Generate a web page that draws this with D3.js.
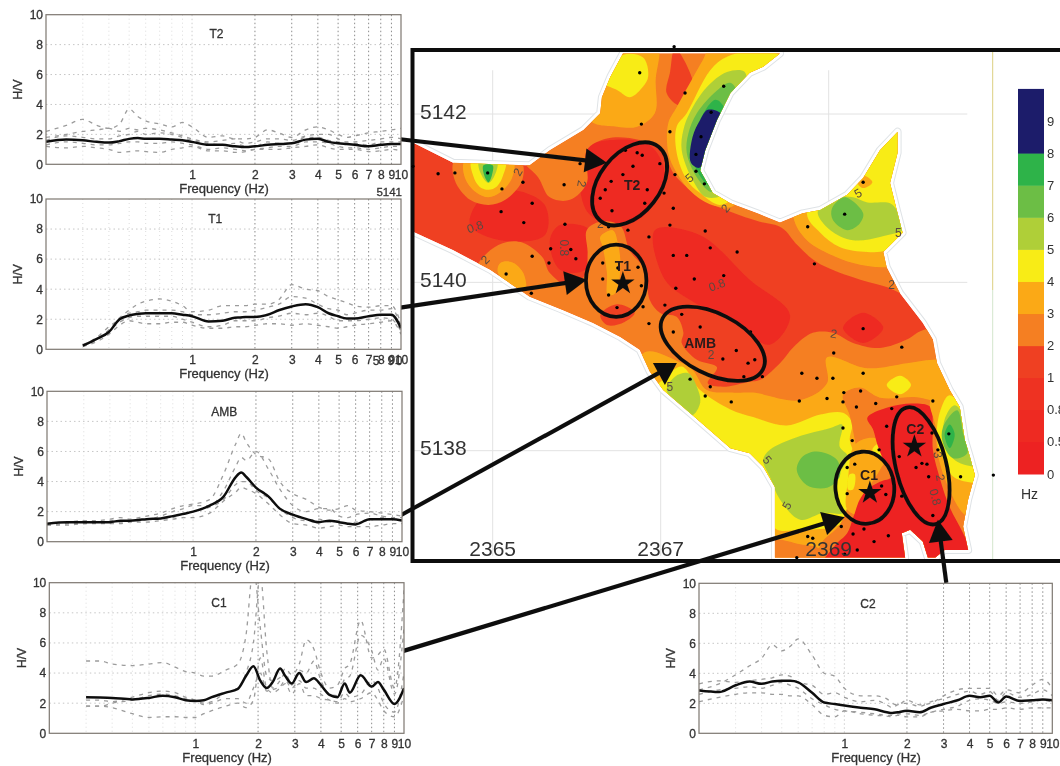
<!DOCTYPE html>
<html><head><meta charset="utf-8">
<script src="https://cdnjs.cloudflare.com/ajax/libs/d3/7.8.5/d3.min.js"></script>
<style>html,body{margin:0;padding:0;background:#fff;overflow:hidden}svg{display:block}text{font-family:"Liberation Sans",Arial,sans-serif}</style>
</head><body><svg id="c" width="1060" height="766"></svg>
<script>
// ---------- H/V spectra ----------
const freqs=[.2,.25,.3,.35,.4,.45,.5,.55,.6,.7,.8,.9,1,1.2,1.4,1.6,1.7,1.8,2,2.3,2.6,3,3.5,4,4.5,5,5.5,6,7,8,9,10];
const freqsC1=[.3,.35,.4,.5,.6,.7,.8,.9,1,1.1,1.2,1.4,1.6,1.75,1.9,2.05,2.2,2.35,2.55,2.7,2.9,3.15,3.4,3.7,4,4.4,4.8,5.2,5.5,6.2,7,7.5,8,9,10];
const n=null;
const t2Mean=[1.5,1.65,1.6,1.5,1.45,1.55,1.7,1.75,1.7,1.7,1.65,1.6,1.5,1.3,1.3,1.2,1.17,1.15,1.2,1.3,1.35,1.4,1.65,1.7,1.5,1.4,1.35,1.3,1.2,1.3,1.35,1.35];
const t2Runs=[
[2.2,2.6,3.0,2.6,2.4,2.7,3.7,3.2,2.9,2.7,2.5,2.8,2.5,1.8,1.9,1.7,1.7,1.7,1.8,2.3,2.1,1.8,2.3,2.5,2.3,2.0,1.8,1.9,2.1,2.2,2.3,2.4],
[1.8,2.0,2.2,2.3,2.4,2.2,2.4,2.3,2.4,2.3,2.1,1.9,1.7,1.5,1.6,1.7,1.5,1.4,1.5,1.7,1.7,1.6,1.9,2.0,2.0,1.7,1.5,1.5,1.6,1.7,1.8,1.7],
[1.3,1.5,1.4,1.3,1.3,1.4,1.5,1.5,1.4,1.4,1.5,1.4,1.3,1.0,1.1,1.0,.95,.9,1.0,1.1,1.2,1.2,1.5,1.5,1.4,1.2,1.1,1.1,1.0,1.1,1.2,1.2],
[1.2,1.1,1.2,1.1,1.0,.8,.85,.9,.85,.8,1.0,1.1,1.2,.9,.9,.8,.8,.85,1.0,1.0,1.0,1.1,1.2,1.3,1.1,1.0,1.0,1.0,.85,.9,1.0,.9],
[1.6,1.9,1.8,1.7,1.7,1.9,2.0,2.2,2.0,2.1,2.0,1.8,1.6,1.4,1.3,1.4,1.3,1.2,1.2,1.5,1.4,1.4,1.8,1.8,1.6,1.5,1.4,1.4,1.3,1.5,1.5,1.5]];
const t1Mean=[n,n,.25,.7,1.15,2.0,2.25,2.35,2.4,2.4,2.4,2.3,2.2,1.85,1.9,2.1,2.12,2.15,2.15,2.3,2.6,2.85,3.0,2.8,2.4,2.2,2.05,2.05,2.2,2.3,2.3,1.4];
const t1Runs=[
[n,n,.3,.7,1.3,2.1,2.6,3.0,3.2,3.35,3.2,2.9,2.5,2.6,2.9,2.9,2.9,2.9,3.0,3.0,3.3,4.3,4.0,3.9,3.5,3.3,3.1,2.9,2.8,2.9,2.9,1.7],
[n,n,.3,.8,1.5,2.0,2.4,2.5,2.6,2.6,2.6,2.5,2.3,2.3,2.4,2.5,2.5,2.5,2.6,2.8,3.0,3.5,3.4,3.0,2.7,2.6,2.3,2.4,2.6,2.6,2.7,1.5],
[n,n,.2,.6,1.2,1.8,2.1,2.2,2.2,2.2,2.2,2.0,1.8,1.5,1.6,1.9,1.9,1.9,1.9,2.1,2.2,2.4,2.3,2.4,2.2,1.9,1.9,1.9,2.0,2.1,2.0,1.2],
[n,n,.2,.5,1.0,1.6,1.9,1.8,1.7,1.7,1.8,1.8,1.6,1.4,1.4,1.5,1.5,1.5,1.6,1.7,1.7,1.6,1.7,1.6,1.5,1.4,1.5,1.6,1.7,1.8,1.9,1.0]];
const ambMean=[1.2,1.3,1.3,1.3,1.3,1.4,1.4,1.45,1.5,1.55,1.7,1.85,2.0,2.4,3.0,4.3,4.6,4.3,3.6,3.0,2.2,1.8,1.5,1.3,1.4,1.3,1.2,1.15,1.5,1.5,1.5,1.4];
const ambRuns=[
[1.2,1.3,1.4,1.4,1.5,1.6,1.5,1.6,1.7,1.9,2.2,2.4,2.5,2.8,4.5,6.5,7.2,6.6,5.8,5.5,4.0,3.2,2.8,2.3,2.1,2.2,2.4,2.1,2.0,1.9,1.8,1.7],
[1.1,1.2,1.4,1.3,1.4,1.4,1.4,1.5,1.5,1.7,2.0,2.2,2.4,2.4,3.4,5.0,5.6,5.4,6.0,4.8,3.5,2.4,2.0,2.2,2.2,1.7,1.6,1.8,1.9,1.7,1.6,1.6],
[1.1,1.2,1.2,1.3,1.3,1.3,1.4,1.4,1.5,1.5,1.6,1.9,2.0,2.3,2.8,3.8,4.0,4.0,3.4,2.9,2.2,1.6,1.4,1.5,1.3,1.3,1.2,1.3,1.4,1.6,1.5,1.4],
[1.1,1.1,1.2,1.2,1.2,1.2,1.3,1.3,1.3,1.4,1.5,1.6,1.6,1.9,2.7,3.3,3.6,3.5,3.2,2.5,1.8,1.2,1.1,.9,1.0,1.1,1.0,1.0,1.0,1.1,1.2,1.2]];
const c1Mean=[2.4,2.38,2.35,2.25,2.35,2.5,2.4,2.2,2.15,2.2,2.4,2.7,2.95,3.8,4.45,3.5,3.0,3.4,4.3,3.8,3.3,4.0,3.4,3.65,3.2,2.55,2.4,3.3,2.7,3.85,3.1,3.4,2.9,1.95,3.0];
const c1Runs=[
[4.8,4.8,4.6,4.5,4.6,4.7,4.4,4.1,4.0,3.8,3.8,4.2,4.6,6.5,11,7,3.8,3.5,3.7,4.3,3.9,4.6,6.2,5.6,4.0,3.0,3.2,4.3,4.6,7.5,5,5.2,5.6,3.0,9.5],
[2.2,2.2,2.1,2.4,2.7,2.8,2.7,2.4,2.2,2.0,2.1,2.7,3.0,4.0,6.0,10.5,5.5,3.0,3.5,4.0,3.2,4.2,4.0,4.8,3.5,2.6,2.5,3.6,3.8,6.5,5.5,4.2,5.0,2.6,7.0],
[1.8,1.8,1.7,1.3,1.05,1.1,1.1,1.05,1.05,1.3,1.5,1.8,2.0,1.7,2.2,5.0,3.0,2.7,3.0,3.3,2.6,3.3,2.5,2.5,2.3,2.2,2.1,2.7,2.4,2.6,3.5,3.0,2.0,1.4,4.0],
[1.8,1.8,2.0,2.2,2.5,2.6,2.5,2.3,2.2,1.9,2.0,2.3,2.3,2.0,3.0,4.0,2.8,2.9,3.1,3.5,3.0,3.5,3.0,3.0,2.6,2.2,2.0,2.3,2.1,2.3,2.7,2.2,1.5,1.1,2.5]];
const c2Mean=[2.85,2.75,3.2,3.45,3.3,3.45,3.5,3.5,3.4,2.7,2.05,1.95,1.85,1.7,1.6,1.4,1.35,1.4,1.5,1.4,1.7,1.95,2.2,2.5,2.4,2.5,2.05,2.45,2.15,2.2,2.25,2.2];
const c2Runs=[
[2.9,3.3,3.9,4.5,5.0,5.9,5.5,5.8,6.3,5.2,4.0,3.8,3.0,2.5,2.5,2.3,2.0,1.9,2.2,1.9,2.0,2.5,2.9,3.0,3.0,3.0,2.5,2.9,2.7,3.2,3.6,3.0],
[3.3,3.5,3.4,3.5,3.6,3.7,3.9,3.8,3.4,3.2,2.6,2.7,2.4,2.1,2.2,1.9,1.7,1.9,2.0,1.8,2.1,2.3,2.6,2.8,2.6,2.8,2.2,2.7,2.4,2.6,2.9,2.5],
[2.6,2.9,3.0,3.1,3.0,3.2,3.4,3.2,3.0,2.3,1.9,1.6,1.5,1.4,1.3,1.2,1.2,1.3,1.3,1.2,1.4,1.6,1.8,2.2,2.3,2.2,2.0,2.1,2.0,2.1,2.2,2.1],
[2.1,2.4,2.6,2.7,2.7,2.6,2.6,2.5,2.5,1.9,1.2,1.1,1.5,1.3,1.2,1.15,1.1,1.2,1.1,1.1,1.4,1.5,1.6,1.5,1.5,1.6,1.6,1.7,1.6,1.7,1.7,1.7]];
const xLabelTicks=[1,2,3,4,5,6,7,8,9,10];
const xFaintTicks=[.3,.4,.5,.6,.7,.8,.9];
const yTicks=[0,2,4,6,8,10];

// ---------- map: legend bands ----------
const legendLabels=["0","0.5","0.8","1","2","3","4","5","6","7","8","9"];
const bandColors=["#ED2024","#EE2A24","#EE3024","#EF4023","#F57F20","#FBA919","#F8EC12","#AFCF38","#6CBE45","#2FB34A","#1B1C6B","#1B1C6B"];
const [RED0,RED1,RED2,RED3,ORANGE,AMBER,YELLOW,YGREEN,GREEN,DGREEN,NAVY]=bandColors;

// ---------- map: geography, km east of 2360 and north of 5130 ----------
const outline=[[3.9,11.66],[4.05,11.66],[4.53,11.42],[5.44,11.39],[5.68,11.57],[6.08,11.81],[6.28,12.01],[6.30,12.20],[6.40,12.44],[6.55,12.72],[8.42,12.72],[8.22,12.56],[8.06,12.49],[7.83,12.25],[7.67,11.93],[7.53,11.57],[7.47,11.33],[7.62,11.06],[7.83,10.94],[8.15,10.82],[8.42,10.71],[8.69,10.82],[8.90,10.86],[9.22,11.04],[9.41,11.24],[9.61,11.57],[9.82,11.79],[9.82,11.54],[9.73,11.18],[9.81,10.86],[9.88,10.59],[9.65,10.36],[9.69,10.18],[9.85,9.87],[10.12,9.52],[10.24,9.32],[10.29,9.04],[10.44,8.72],[10.56,8.52],[10.62,8.13],[10.68,7.93],[10.74,7.71],[10.66,7.42],[10.60,7.10],[10.66,6.82],[10.38,6.82],[10.27,6.73],[10.18,6.73],[10.12,6.92],[9.97,7.06],[9.87,7.02],[9.91,6.73],[8.36,6.73],[8.36,7.57],[8.22,7.81],[8.06,7.97],[7.83,8.03],[7.38,8.42],[7.03,8.72],[6.87,8.94],[6.75,9.20],[6.52,9.35],[6.19,9.52],[5.84,9.67],[5.44,9.83],[4.97,10.15],[4.53,10.38],[4.05,10.60],[3.9,10.60]];
const redWest=[[4.85,10.98],[5.21,11.10],[5.62,10.92],[5.62,10.56],[5.09,10.50],[4.73,10.68]];
const redT2=[[6.06,11.57],[6.40,11.69],[6.87,11.63],[7.05,11.28],[6.87,10.86],[6.57,10.68],[6.16,10.80],[6.04,11.10]];
const redCentre=[[6.93,10.62],[7.47,10.56],[8.06,10.03],[8.54,9.61],[8.30,9.26],[7.83,9.55],[7.35,9.79],[7.05,10.03]];
const redMid=[[5.80,10.68],[6.16,10.62],[6.10,10.15],[5.80,10.15],[5.68,10.50]];
const redSpot=[[9.17,9.46],[9.41,9.64],[9.65,9.46],[9.41,9.28]];
const orangeNorth=[[5.33,11.48],[5.54,11.25],[5.68,11.01],[5.92,10.98],[6.12,11.18],[6.12,11.57],[6.36,11.71],[6.75,11.69],[7.03,11.54],[7.15,11.30],[7.31,11.13],[7.50,10.98],[7.83,10.84],[8.18,10.72],[8.44,10.65],[8.63,10.44],[8.86,10.24],[9.29,10.06],[9.67,9.95],[10.03,9.85],[10.21,10.98],[9.37,12.82],[5.80,12.82],[5.21,12.05]];
const amberTop=[[6.16,11.93],[6.34,12.52],[6.55,12.82],[6.96,12.82],[6.94,12.40],[6.93,12.01],[6.72,11.85],[6.48,11.85]];
const yellowTop=[[6.28,12.40],[6.55,12.70],[6.79,12.67],[6.85,12.44],[6.75,12.28],[6.63,12.20],[6.49,12.28]];
const redDrop=[[7.17,12.78],[7.38,12.40],[7.37,12.20],[7.23,12.10],[7.07,12.25],[7.11,12.49]];
const armAmber=[[7.61,12.82],[7.50,12.64],[7.19,12.08],[7.09,11.89],[7.09,11.54],[7.19,11.30],[7.38,11.06],[7.61,10.92],[7.88,10.92],[7.94,11.57],[8.54,12.52],[8.54,12.82]];
const armYellow=[[7.79,12.68],[7.59,12.52],[7.31,12.01],[7.19,11.85],[7.19,11.54],[7.31,11.22],[7.47,11.06],[7.71,10.92],[7.94,11.10],[8.00,11.81],[8.54,12.58],[8.24,12.76]];
const armYGreen=[[7.79,12.50],[7.55,12.32],[7.35,12.02],[7.27,11.81],[7.25,11.57],[7.38,11.22],[7.55,11.01],[7.83,11.10],[8.00,12.17],[8.00,12.50]];
const armGreen=[[7.83,12.37],[7.67,12.28],[7.43,12.01],[7.33,11.77],[7.31,11.54],[7.43,11.25],[7.62,11.07],[7.83,11.27],[7.94,12.17]];
const armDGreen=[[7.65,12.17],[7.43,11.85],[7.37,11.57],[7.43,11.33],[7.61,11.13],[7.77,11.45],[7.77,12.05]];
const armNavy=[[7.56,12.05],[7.72,12.00],[7.66,11.77],[7.55,11.54],[7.46,11.36],[7.36,11.42],[7.38,11.73],[7.47,11.93]];
const neAmber=[[8.58,10.77],[8.74,10.50],[8.98,10.35],[9.29,10.23],[9.69,10.18],[10.03,10.27],[10.09,11.57],[8.66,11.57]];
const neYellow=[[8.74,10.82],[8.90,10.59],[9.13,10.42],[9.46,10.36],[9.69,10.38],[9.97,10.56],[10.03,11.81],[9.25,11.81]];
const neYGreen=[[8.87,10.84],[9.02,10.62],[9.29,10.50],[9.61,10.54],[9.91,10.65],[9.81,10.86],[9.73,10.94],[9.46,10.95],[9.29,11.01],[9.13,11.01]];
const neGreen=[[9.19,11.01],[9.41,10.82],[9.37,10.70],[9.22,10.62],[9.05,10.74],[9.04,10.88]];
const neAmberSpot=[[9.34,11.19],[9.41,11.27],[9.52,11.19],[9.41,11.12]];
const westOrange=[[4.55,11.45],[5.33,11.45],[5.35,11.21],[5.15,10.98],[4.95,10.92],[4.73,10.98],[4.55,11.21]];
const westAmber=[[4.67,11.45],[5.24,11.45],[5.23,11.24],[5.09,11.07],[4.95,11.01],[4.80,11.07],[4.67,11.24]];
const westYellow=[[4.75,11.45],[5.15,11.45],[5.12,11.26],[5.05,11.14],[4.95,11.10],[4.84,11.14],[4.77,11.26]];
const westYGreen=[[4.84,11.45],[5.05,11.45],[5.04,11.31],[4.95,11.18],[4.85,11.31]];
const westGreen=[[4.89,11.39],[5.00,11.39],[4.99,11.27],[4.95,11.19],[4.90,11.27]];
const southOrange=[[4.79,10.15],[4.97,10.38],[5.17,10.48],[5.36,10.47],[5.59,10.30],[5.68,10.11],[5.92,9.95],[6.10,10.09],[6.13,10.35],[6.12,10.62],[6.28,10.72],[6.52,10.67],[6.63,10.38],[6.81,10.15],[6.87,9.79],[6.99,9.64],[7.19,9.59],[7.27,9.40],[7.25,9.28],[7.43,9.08],[7.67,8.99],[7.56,8.80],[7.74,8.76],[8.06,8.82],[8.18,8.84],[8.42,9.04],[8.58,9.23],[8.81,9.40],[9.05,9.40],[9.29,9.28],[9.61,9.22],[9.93,9.32],[10.12,9.43],[10.74,9.49],[11.04,7.65],[10.80,6.23],[7.47,6.23],[6.28,8.60],[4.79,9.79]];
const t1Amber=[[6.28,10.54],[6.43,10.62],[6.49,10.47],[6.52,10.18],[6.46,9.87],[6.37,9.85],[6.36,10.11],[6.31,10.42]];
const t1RedSpot=[[6.28,9.61],[6.48,9.74],[6.69,9.64],[6.57,9.53],[6.37,9.49]];
const swAmber=[[5.09,10.23],[5.23,10.24],[5.36,10.12],[5.39,9.93],[5.21,9.97],[5.06,10.12]];
const southAmber=[[6.81,9.17],[7.23,9.05],[7.38,8.96],[7.55,8.72],[7.83,8.69],[8.10,8.69],[8.66,8.60],[8.98,8.80],[8.98,9.11],[9.46,8.98],[9.93,9.04],[10.24,9.08],[10.74,9.08],[11.04,7.65],[10.80,6.23],[7.47,6.23],[6.63,8.60]];
const southYellow=[[7.05,8.86],[7.25,9.00],[7.47,8.72],[7.83,8.49],[8.10,8.40],[8.50,8.30],[8.90,8.43],[9.17,8.45],[9.28,8.33],[9.25,8.13],[9.31,7.95],[9.37,7.65],[9.29,7.30],[9.13,7.12],[8.66,7.06],[8.36,7.08],[8.18,7.65],[7.77,7.77],[7.23,8.25],[6.87,8.66]];
const ambYGreen=[[7.17,8.88],[7.33,8.92],[7.43,8.76],[7.47,8.57],[7.37,8.42],[7.19,8.57],[7.07,8.72]];
const southYGreen=[[8.22,7.89],[8.30,8.01],[8.62,8.16],[9.02,8.27],[9.16,8.31],[9.13,8.05],[9.23,7.93],[9.11,7.69],[9.10,7.42],[9.17,7.26],[8.93,7.26],[8.66,7.18],[8.42,7.42],[8.30,7.69]];
const southGreen=[[8.86,7.99],[9.10,7.89],[9.13,7.69],[8.98,7.56],[8.74,7.59],[8.62,7.77],[8.69,7.93]];
const clusterOrange=[[9.17,8.66],[9.37,8.75],[9.61,8.63],[10.09,8.63],[10.30,8.54],[10.33,8.25],[10.38,7.77],[10.62,7.30],[10.86,6.70],[9.85,6.58],[8.90,6.58],[8.90,6.88],[9.13,7.12],[9.29,7.54],[9.37,7.83],[9.31,8.13],[9.25,8.42]];
const swOrange=[[8.30,6.93],[8.66,6.89],[8.90,6.83],[9.02,6.58],[8.30,6.58]];
const c1Amber=[[9.31,8.07],[9.55,8.15],[9.73,8.01],[9.61,7.77],[9.47,7.54],[9.37,7.24],[9.22,7.30],[9.23,7.65]];
const c1YellowA=[[9.52,8.01],[9.61,8.09],[9.71,8.01],[9.61,7.91]];
const c1YellowB=[[9.25,7.72],[9.31,7.72],[9.29,7.54],[9.23,7.54]];
const clusterRed=[[9.46,8.39],[9.69,8.51],[10.00,8.56],[10.21,8.52],[10.24,8.33],[10.24,8.01],[10.33,7.65],[10.44,7.33],[10.60,7.02],[10.71,6.76],[10.21,6.58],[8.90,6.58],[9.08,6.88],[9.22,7.02],[9.29,7.20],[9.37,7.42],[9.46,7.54],[9.61,7.63],[9.75,7.69],[9.65,7.89],[9.58,8.07],[9.53,8.25]];
const eastAmber=[[10.21,8.60],[10.44,8.78],[10.74,8.24],[10.86,7.16],[10.62,7.24],[10.44,7.53],[10.30,7.95],[10.27,8.30]];
const eastYellow=[[10.33,8.48],[10.44,8.66],[10.74,8.24],[10.86,7.65],[10.50,7.68],[10.38,7.87],[10.29,8.13]];
const eastYGreen=[[10.38,8.37],[10.50,8.54],[10.71,8.24],[10.86,7.83],[10.53,7.87],[10.38,8.07]];
const eastGreen=[[10.36,8.28],[10.53,8.48],[10.60,8.21],[10.65,7.97],[10.48,7.91],[10.36,8.09]];
const eastDGreen=[[10.38,8.19],[10.44,8.31],[10.50,8.19],[10.44,8.03]];
const midYellow=[[9.69,8.78],[9.85,8.89],[9.98,8.78],[9.85,8.67]];
const mapLayers=[[RED1,redWest],[RED1,redT2],[RED1,redCentre],[RED1,redMid],[RED1,redSpot],
[ORANGE,orangeNorth],[AMBER,amberTop],[YELLOW,yellowTop],[RED3,redDrop],[AMBER,armAmber],[YELLOW,armYellow],[YGREEN,armYGreen],[GREEN,armGreen],[DGREEN,armDGreen],[NAVY,armNavy],
[AMBER,neAmber],[YELLOW,neYellow],[YGREEN,neYGreen],[GREEN,neGreen],[AMBER,neAmberSpot],
[ORANGE,westOrange],[AMBER,westAmber],[YELLOW,westYellow],[YGREEN,westYGreen],[DGREEN,westGreen],
[ORANGE,southOrange],[AMBER,t1Amber],[RED3,t1RedSpot],[AMBER,swAmber],[AMBER,southAmber],[YELLOW,southYellow],[YGREEN,ambYGreen],[YGREEN,southYGreen],[GREEN,southGreen],
[ORANGE,clusterOrange],[ORANGE,swOrange],[AMBER,c1Amber],[YELLOW,c1YellowA],[YELLOW,c1YellowB],[RED0,clusterRed],[AMBER,eastAmber],[YELLOW,eastYellow],[YGREEN,eastYGreen],[GREEN,eastGreen],[DGREEN,eastDGreen],[YELLOW,midYellow]];
const stations=[[6.75,12.49],[7.29,12.25],[6.77,11.88],[7.11,11.79],[7.75,12.33],[7.60,12.02],[7.48,11.73],[7.42,11.52],[7.42,11.32],[7.52,11.17],[7.17,11.28],[6.99,11.41],[6.78,11.51],[6.72,11.54],[6.58,11.57],[6.67,11.38],[6.55,11.28],[6.41,11.20],[6.04,11.41],[6.34,11.10],[6.28,11.00],[6.84,11.10],[6.81,10.94],[7.04,11.06],[7.15,10.88],[6.42,10.85],[5.85,11.16],[5.36,11.19],[5.11,11.11],[4.94,11.30],[4.55,11.30],[4.35,11.29],[4.05,11.38],[5.47,10.94],[5.10,10.84],[5.37,10.71],[5.86,10.69],[6.38,10.66],[6.61,10.62],[6.86,10.54],[7.11,10.68],[7.53,10.61],[7.59,10.41],[7.91,10.36],[7.15,10.32],[7.31,10.32],[5.69,10.40],[5.67,10.23],[5.93,10.39],[5.99,10.28],[5.47,10.31],[5.16,10.10],[5.46,9.87],[6.31,10.23],[6.49,10.17],[6.73,10.18],[6.31,10.04],[6.77,9.96],[6.38,9.85],[6.48,9.70],[7.40,10.04],[7.18,9.93],[7.05,9.73],[7.75,10.08],[6.79,9.71],[7.25,9.62],[6.86,9.51],[7.15,9.41],[7.47,9.47],[7.90,9.19],[7.74,9.09],[8.04,9.04],[8.12,9.08],[7.35,8.85],[7.59,8.76],[7.53,8.65],[7.84,8.58],[9.41,11.19],[9.19,10.81],[8.75,10.66],[8.83,10.22],[9.41,9.45],[9.87,9.23],[9.06,9.16],[8.68,8.92],[8.86,8.86],[9.05,8.86],[9.41,8.92],[8.65,8.59],[8.98,8.62],[9.17,8.58],[9.18,8.69],[9.38,8.71],[9.33,8.52],[9.56,8.56],[9.81,8.64],[10.24,8.59],[9.75,8.50],[9.69,8.29],[9.17,8.27],[9.28,8.12],[9.60,8.01],[10.23,8.21],[10.43,8.20],[10.30,8.01],[9.84,7.93],[10.11,7.85],[10.17,7.84],[10.04,7.80],[10.19,7.69],[10.57,7.69],[9.31,7.84],[9.22,7.80],[9.63,7.58],[9.68,7.48],[9.22,7.49],[9.87,7.46],[10.24,7.23],[9.15,7.10],[9.29,7.01],[9.42,7.07],[9.71,6.99],[9.54,6.92],[9.34,6.82],[9.19,6.77],[8.75,6.98],[8.81,6.96],[8.62,6.73],[8.07,9.41],[8.21,8.88],[7.99,8.88],[10.96,7.71],[7.16,12.80]];
const contourLabels=[["2",5.30,11.31,-60],["2",6.06,11.17,100],["0.8",4.79,10.66,-20],["2",4.91,10.27,-45],["0.8",5.85,10.41,90],["0.8",7.67,9.97,-20],["5",7.34,11.24,-40],["2",7.77,10.88,-50],["2",6.28,10.69,0],["5",9.35,11.06,-30],["5",9.83,10.59,0],["2",9.75,9.97,0],["2",9.06,9.39,10],["5",8.27,7.89,50],["5",8.50,7.35,-60],["3",10.30,7.95,80],["2",10.33,7.68,80],["0.8",10.27,7.45,75],["2",7.60,9.14,0],["5",7.11,8.76,0]];
const zones=[["T2",6.63,11.17,.56,.36,-52,6.66,11.16],["T1",6.47,10.02,.36,.43,0,6.55,10.19],["AMB",7.62,9.27,.67,.36,27,7.47,9.28],["C1",9.43,7.56,.35,.43,-5,9.48,7.71],["C2",10.10,7.82,.30,.715,-14,10.03,8.26]];
const stars=[[6.55,9.99],[9.49,7.50],[10.02,8.05]];
const arrows=[[3.90,11.70,6.36,11.42],[3.90,9.70,6.12,10.03],[3.90,7.23,7.05,8.78,90],[3.90,5.61,9.19,7.21],[10.40,6.43,10.30,7.18]];
const eastTicks=[[5,"2365"],[7,"2367"],[9,"2369"]];
const northTicks=[[12,"5142"],[10,"5140"],[8,"5138"]];

// ---------- drawing ----------
const svg=d3.select("#c");
const defs=svg.append("defs");
defs.append("filter").attr("id","soft").attr("filterUnits","userSpaceOnUse").attr("x",0).attr("y",0).attr("width",1060).attr("height",766)
 .append("feGaussianBlur").attr("stdDeviation",0.7);
const root=svg.append("g").attr("filter","url(#soft)");
root.append("rect").attr("width",1060).attr("height",766).attr("fill","#fff");

const X=d3.scaleLinear().domain([5,7]).range([492.7,660.7]);
const Y=d3.scaleLinear().domain([12,8]).range([114,450.7]);
const frame={x:412.5,y:50,bottom:561};
const INK="#111";

// map frame contents
defs.append("clipPath").attr("id","frameClip").append("rect").attr("x",frame.x).attr("y",frame.y).attr("width",700).attr("height",frame.bottom-frame.y);
const m=root.append("g").attr("clip-path","url(#frameClip)");
[5,7,9].forEach(e=>m.append("line").attr("x1",X(e)).attr("x2",X(e)).attr("y1",Y(12.52)).attr("y2",Y(6.75)).attr("stroke","#e2e2e2").attr("stroke-width",1));
[12,10,8].forEach(k=>m.append("line").attr("x1",X(4)).attr("x2",X(10.65)).attr("y1",Y(k)).attr("y2",Y(k)).attr("stroke","#e2e2e2").attr("stroke-width",1));
m.append("line").attr("x1",992.7).attr("x2",992.7).attr("y1",52).attr("y2",290).attr("stroke","#dccf80").attr("stroke-width",1);
m.append("line").attr("x1",992.7).attr("x2",992.7).attr("y1",290).attr("y2",559).attr("stroke","#d3e5cc").attr("stroke-width",1);

const lin=d3.line().x(d=>X(d[0])).y(d=>Y(d[1]));
const smooth=d3.line().x(d=>X(d[0])).y(d=>Y(d[1])).curve(d3.curveCatmullRomClosed.alpha(.5));
defs.append("clipPath").attr("id","mapClip").append("path").attr("d",lin(outline)+"Z");
m.append("path").attr("d",lin(outline)+"Z").attr("fill","#fff").attr("stroke","#dfe3e6").attr("stroke-width",8).attr("stroke-linejoin","round");
m.append("path").attr("d",lin(outline)+"Z").attr("fill","#fff").attr("stroke","#fff").attr("stroke-width",6).attr("stroke-linejoin","round");
const land=m.append("g").attr("clip-path","url(#mapClip)");
land.append("path").attr("d",lin(outline)+"Z").attr("fill",RED3);
land.selectAll("path.z").data(mapLayers).join("path").attr("class","z").attr("d",d=>smooth(d[1])).attr("fill",d=>d[0]);

m.selectAll("text.c").data(contourLabels).join("text").attr("class","c")
 .attr("transform",d=>`translate(${X(d[1])},${Y(d[2])}) rotate(${d[3]})`).attr("text-anchor","middle").attr("dy",".35em")
 .attr("font-size",12).attr("fill","#5a4a40").text(d=>d[0]);

root.append("rect").attr("x",frame.x).attr("y",frame.y).attr("width",700).attr("height",frame.bottom-frame.y).attr("fill","none").attr("stroke",INK).attr("stroke-width",4);

root.selectAll("circle.s").data(stations).join("circle").attr("class","s").attr("cx",d=>X(d[0])).attr("cy",d=>Y(d[1])).attr("r",1.7).attr("fill","#000");

root.selectAll("text.e").data(eastTicks).join("text").attr("class","e").attr("x",d=>X(d[0])).attr("y",556).attr("text-anchor","middle").attr("font-size",21).attr("fill","#333").text(d=>d[1]);
root.selectAll("text.n").data(northTicks).join("text").attr("class","n").attr("x",420).attr("y",d=>Y(d[0])+4.5).attr("font-size",21).attr("fill","#333").text(d=>d[1]);

root.selectAll("ellipse.zone").data(zones).join("ellipse").attr("class","zone")
 .attr("rx",d=>X(5+d[3])-X(5)).attr("ry",d=>X(5+d[4])-X(5))
 .attr("transform",d=>`translate(${X(d[1])},${Y(d[2])}) rotate(${d[5]})`)
 .attr("fill","none").attr("stroke",INK).attr("stroke-width",3.8);
root.selectAll("text.zl").data(zones).join("text").attr("class","zl").attr("x",d=>X(d[6])).attr("y",d=>Y(d[7])).attr("dy",".35em").attr("text-anchor","middle")
 .attr("font-size",14).attr("font-weight","bold").attr("fill","#2a1a1a").text(d=>d[0]);
root.selectAll("path.star").data(stars).join("path").attr("class","star").attr("d",d3.symbol(d3.symbolStar,170)).attr("transform",d=>`translate(${X(d[0])},${Y(d[1])})`).attr("fill","#111");

arrows.forEach(a=>{
  const x0=X(a[0]),y0=Y(a[1]),x1=X(a[2]),y1=Y(a[3]);
  const ang=a[4]!==undefined?a[4]*Math.PI/180:Math.atan2(y1-y0,x1-x0);
  const L=22,W=12,cx=Math.cos(ang),sx=Math.sin(ang);
  root.append("line").attr("x1",x0).attr("y1",y0).attr("x2",x1-cx*L*.7).attr("y2",y1-sx*L*.7).attr("stroke",INK).attr("stroke-width",4.2);
  const p=[[x1,y1],[x1-cx*L-sx*W,y1-sx*L+cx*W],[x1-cx*L+sx*W,y1-sx*L-cx*W]];
  root.append("path").attr("d","M"+p.join("L")+"Z").attr("fill",INK);
});

const legendY=d3.scalePoint().domain(legendLabels).range([474,121]);
const step=legendY.step();
legendLabels.forEach((l,i)=>{
  root.append("rect").attr("x",1018).attr("width",26).attr("y",legendY(l)-step).attr("height",step+.5).attr("fill",bandColors[i]);
  root.append("text").attr("x",1047).attr("y",legendY(l)+4.5).attr("font-size",13).attr("fill","#333").text(l);
});
root.append("text").attr("x",1021).attr("y",499).attr("font-size",14).attr("fill","#333").text("Hz");

const panels=[
 {name:"T2",f:freqs,mean:t2Mean,runs:t2Runs,box:[46,401,14.7,164.3],title:1.31,titleY:19},
 {name:"T1",f:freqs,mean:t1Mean,runs:t1Runs,box:[46,401,199,349.3],title:1.29,titleY:20},
 {name:"AMB",f:freqs,mean:ambMean,runs:ambRuns,box:[47,402,391.3,541.7],title:1.41,titleY:20},
 {name:"C1",f:freqsC1,mean:c1Mean,runs:c1Runs,box:[49.3,404,582.7,733.3],title:1.30,titleY:20},
 {name:"C2",f:freqs,mean:c2Mean,runs:c2Runs,box:[699,1052.3,583.3,733.3],title:1.30,titleY:20}];
const inked=s=>s.attr("fill","#333").attr("stroke","#333").attr("stroke-width",.3);
panels.forEach((p,i)=>{
  const [l,r,t,b]=p.box;
  const x=d3.scaleLog().domain([.2,10]).range([l,r]);
  const y=d3.scaleLinear().domain([0,10]).range([b,t]);
  const g=root.append("g");
  g.append("rect").attr("x",l).attr("y",t).attr("width",r-l).attr("height",b-t).attr("fill","#fff");
  xFaintTicks.forEach(v=>g.append("line").attr("x1",x(v)).attr("x2",x(v)).attr("y1",t).attr("y2",b).attr("stroke","#dcdcdc").attr("stroke-dasharray","1 3"));
  xLabelTicks.slice(0,-1).forEach(v=>g.append("line").attr("x1",x(v)).attr("x2",x(v)).attr("y1",t).attr("y2",b).attr("stroke",v===1?"#cfcfcf":"#8c8c8c").attr("stroke-dasharray","1.5 2.5"));
  yTicks.slice(1,-1).forEach(v=>g.append("line").attr("x1",l).attr("x2",r).attr("y1",y(v)).attr("y2",y(v)).attr("stroke","#c6c6c6").attr("stroke-dasharray","1.5 3"));
  const cid="pc"+i;
  defs.append("clipPath").attr("id",cid).append("rect").attr("x",l).attr("y",t).attr("width",r-l).attr("height",b-t);
  const plot=g.append("g").attr("clip-path",`url(#${cid})`);
  const line=d3.line().defined(d=>d[1]!==null).x(d=>x(d[0])).y(d=>y(d[1])).curve(d3.curveMonotoneX);
  p.runs.forEach(run=>plot.append("path").attr("d",line(p.f.map((v,k)=>[v,run[k]]))).attr("fill","none").attr("stroke","#9c9c9c").attr("stroke-width",1.3).attr("stroke-dasharray","4 5"));
  plot.append("path").attr("d",line(p.f.map((v,k)=>[v,p.mean[k]]))).attr("fill","none").attr("stroke","#111").attr("stroke-width",2.5);
  g.append("rect").attr("x",l).attr("y",t).attr("width",r-l).attr("height",b-t).attr("fill","none").attr("stroke","#7d7770").attr("stroke-width",1.2);
  const ax=g.append("g").attr("transform",`translate(0,${b})`).call(d3.axisBottom(x).tickValues(xLabelTicks).tickFormat(d3.format("d")).tickSize(0).tickPadding(6));
  const ay=g.append("g").attr("transform",`translate(${l},0)`).call(d3.axisLeft(y).tickValues(yTicks).tickSize(0).tickPadding(3));
  [ax,ay].forEach(a=>{a.select(".domain").remove();a.selectAll("text").attr("font-size",12).attr("font-family","Liberation Sans").call(inked);});
  g.append("text").attr("x",(l+r)/2+.5).attr("y",b+28.5).attr("text-anchor","middle").attr("font-size",13).call(inked).text("Frequency (Hz)");
  g.append("text").attr("transform",`translate(${l-28},${(t+b)/2}) rotate(-90)`).attr("text-anchor","middle").attr("dy",".35em").attr("font-size",12).call(inked).text("H/V");
  g.append("text").attr("x",x(p.title)).attr("y",t+p.titleY).attr("dy",".35em").attr("text-anchor","middle").attr("font-size",12).call(inked).text(p.name);
  if(p.name==="T1"){
    const extra=[[7.6,"5"],[8.95,"9"],[9.8,"0"]];
    extra.forEach(e=>g.append("text").attr("x",x(e[0])).attr("y",b+16).attr("text-anchor","middle").attr("font-size",12).call(inked).text(e[1]));
  }
});
root.append("text").attr("x",402).attr("y",196).attr("text-anchor","end").attr("font-size",11.5).call(inked).text("5141");
</script></body></html>
